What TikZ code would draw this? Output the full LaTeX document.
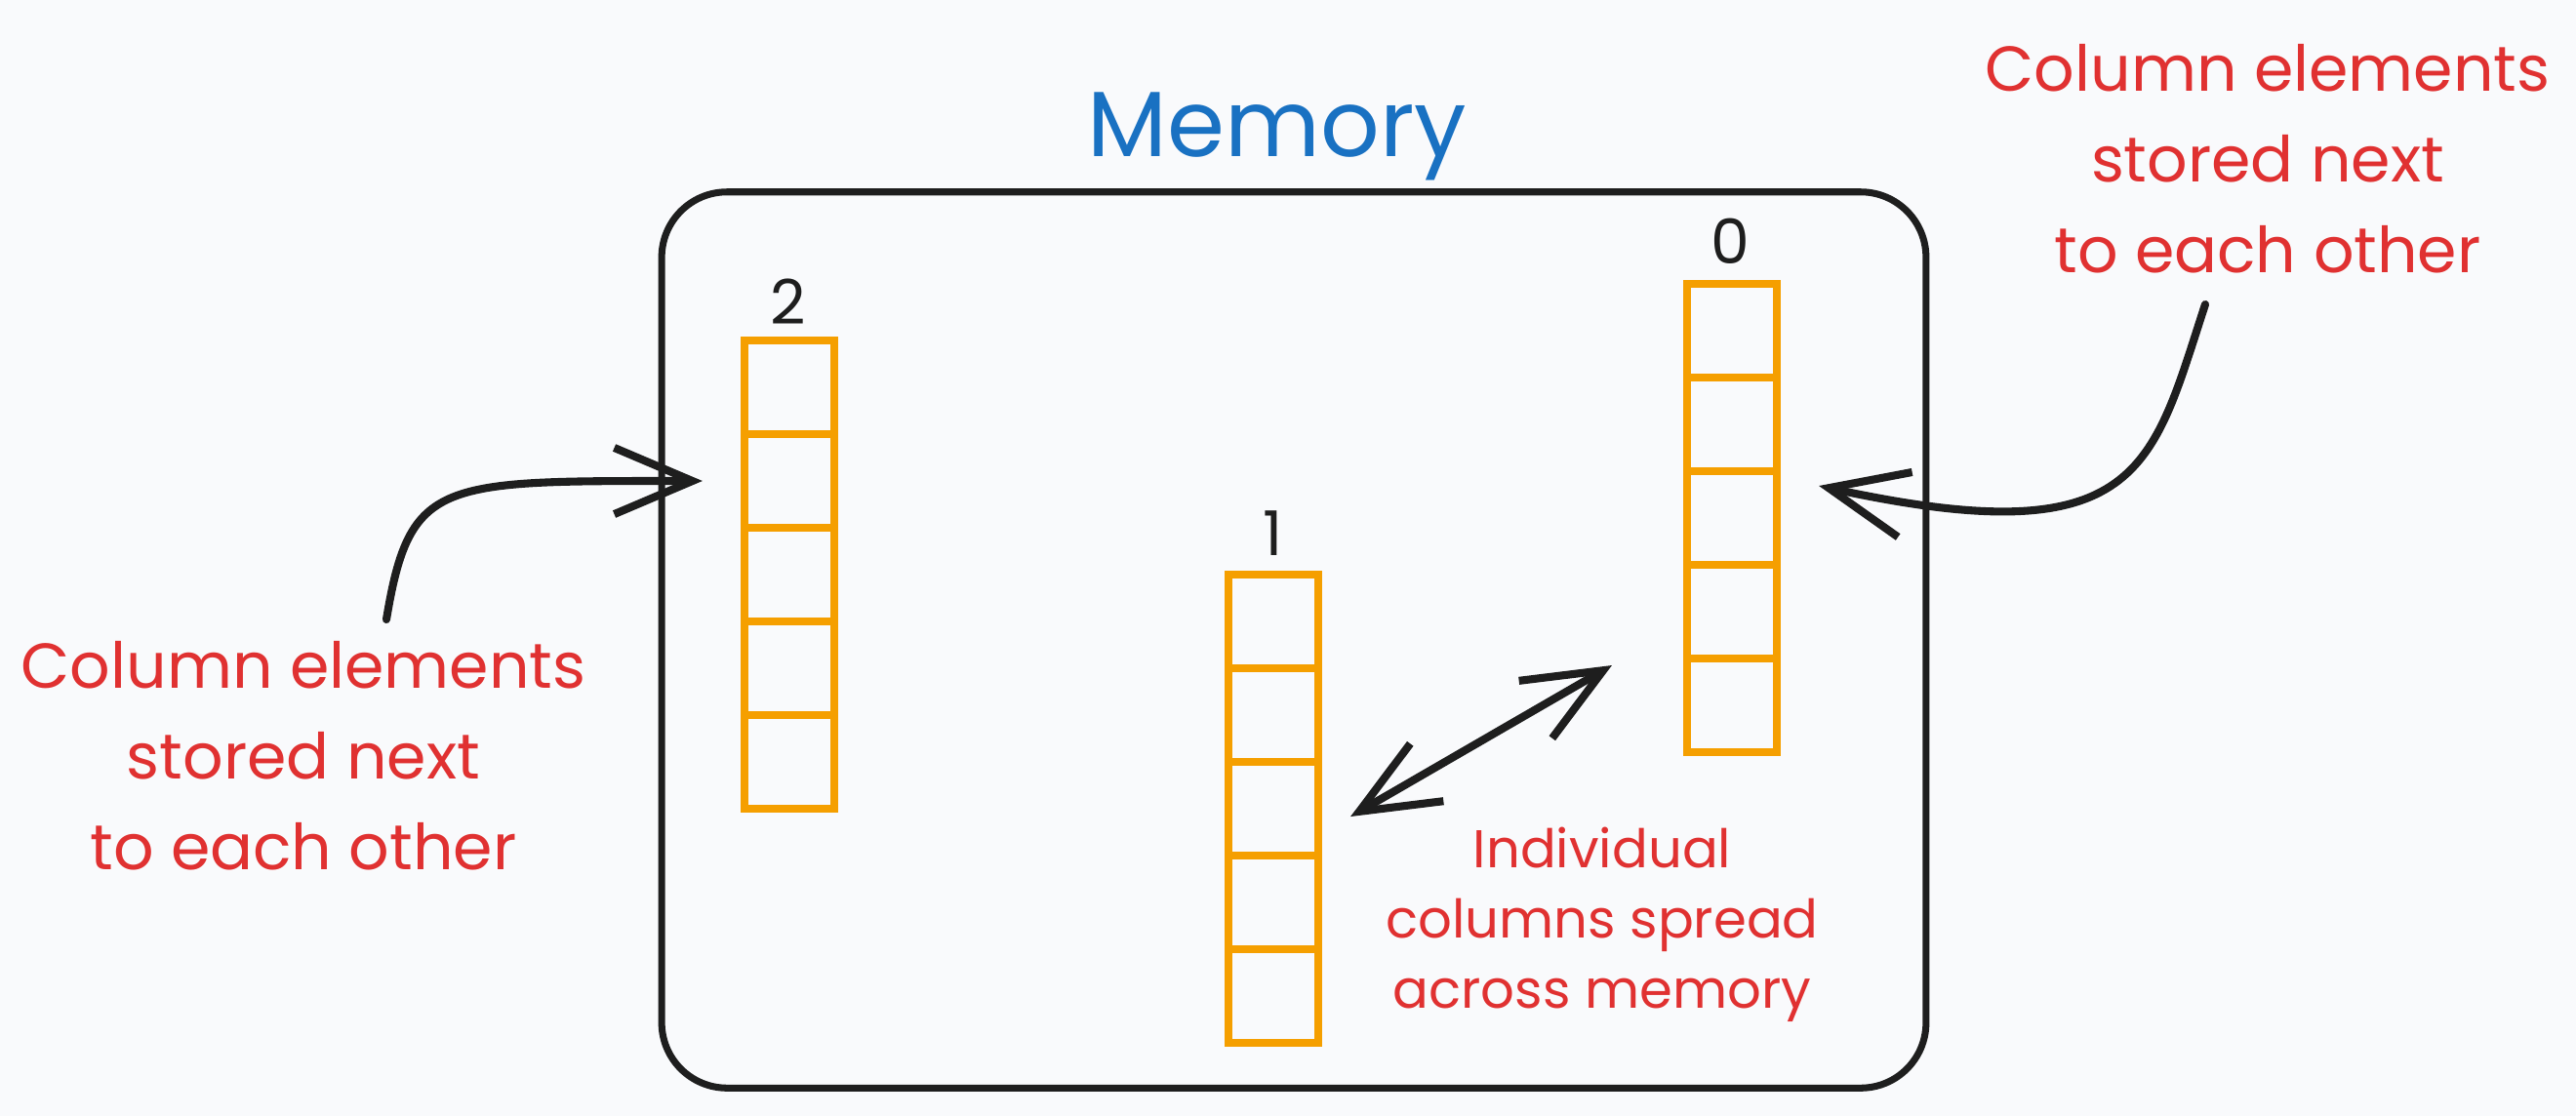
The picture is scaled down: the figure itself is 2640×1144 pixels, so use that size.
\documentclass[tikz,border=0pt]{standalone}
\usepackage{fontspec}
\setmainfont{Poppins}
\usetikzlibrary{arrows.meta}

\definecolor{bgpaper}{HTML}{F9FAFC}
\definecolor{inkblack}{HTML}{1E1E1E}
\definecolor{inkred}{HTML}{E03131}
\definecolor{inkblue}{HTML}{1971C2}
\definecolor{inkorange}{HTML}{F59F00}

\tikzset{
  cell/.style={draw=inkorange, line width=2.3pt, minimum width=0.92cm,
    minimum height=0.96cm, inner sep=0pt},
  idx/.style={text=inkblack, font=\fontsize{18}{20}\selectfont, anchor=base},
  note/.style={text=inkred, align=center, font=\fontsize{18.5}{26.4}\selectfont},
  smallnote/.style={text=inkred, align=center, font=\fontsize{15.5}{20.5}\selectfont},
  barb/.tip={Straight Barb[length=0.8cm, width=0.68cm, line width=2.3pt]},
  link/.style={draw=inkblack, line width=2.3pt, line cap=round, -barb},
}

\begin{document}
\begin{tikzpicture}[x=0.01cm, y=-0.01cm]
    \fill[bgpaper] (0,0) rectangle (2640,1144);

    % memory box and title
    \node[draw=inkblack, line width=2pt, rounded corners=0.67cm,
      minimum width=12.95cm, minimum height=9.18cm] (mem) at (1326,656) {};
    \node[text=inkblue, font=\fontsize{27}{32}\selectfont, anchor=base]
      (memtitle) at (1309,160) {Memory};

    % the three columns
    \foreach \i in {1,...,5} \node[cell] (c2-\i) at (809, {349+(\i-0.5)*96}) {};
    \foreach \i in {1,...,5} \node[cell] (c1-\i) at (1305, {589+(\i-0.5)*96}) {};
    \foreach \i in {1,...,5} \node[cell] (c0-\i) at (1775, {291+(\i-0.5)*96}) {};
    \node[idx] (l2) at (808,332) {2};
    \node[idx] (l1) at (1305,569) {1};
    \node[idx] (l0) at (1773,270) {0};

    % notes
    \node[note] (lt) at (311,775) {Column elements\\stored next\\to each other};
    \node[note] (rt) at (2324,163) {Column elements\\stored next\\to each other};
    \node[smallnote] (bt) at (1642,948) {Individual\\columns spread\\across memory};

    % arrows
    \coordinate (la) at (396,635);
    \coordinate (ra) at (2260,312);
    \draw[link] (la) .. controls (420,490) and (450,493) .. ([shift={(-39,0)}]c2-2.west);
    \draw[link] (ra) .. controls (2205,480) and (2195,570) .. ([shift={(39,-33)}]c0-3.east);
    \draw[link, barb-barb] ([shift={(29,8)}]c1-3.east) -- ([shift={(-73,-41)}]c0-5.west);
  \end{tikzpicture}
\end{document}
